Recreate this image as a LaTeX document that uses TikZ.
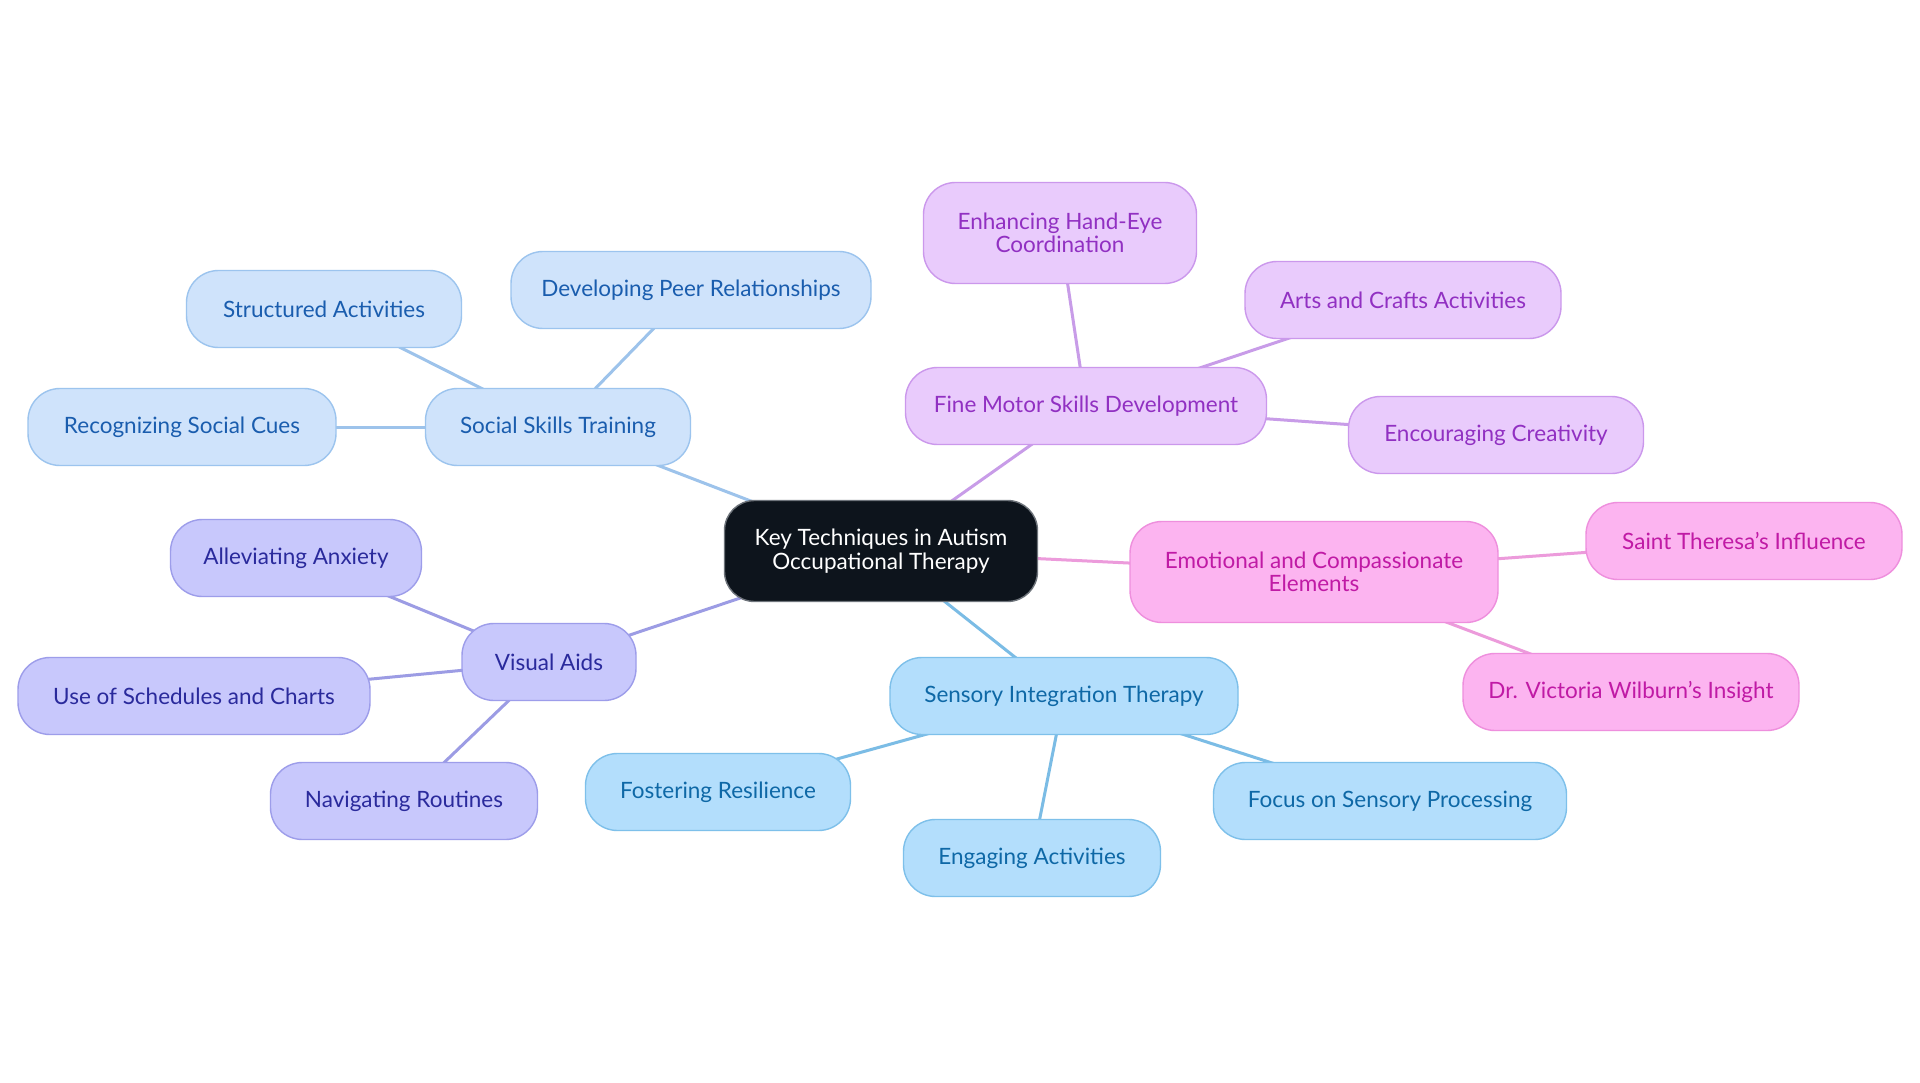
\documentclass[tikz,border=0pt]{standalone}
\usepackage{fontspec}
\setmainfont{Lato}
\usetikzlibrary{backgrounds}
\definecolor{rootFill}{HTML}{0D141C}
\definecolor{rootLine}{HTML}{6E747B}
\definecolor{ssFill}{HTML}{CFE3FB}
\definecolor{ssLine}{HTML}{9CC4EE}
\definecolor{ssText}{HTML}{1A5DAE}
\definecolor{ssEdge}{HTML}{9DC3EB}
\definecolor{vaFill}{HTML}{C8C8FC}
\definecolor{vaLine}{HTML}{9D9DEA}
\definecolor{vaText}{HTML}{2A2A9C}
\definecolor{vaEdge}{HTML}{9C9CE4}
\definecolor{siFill}{HTML}{B3DEFC}
\definecolor{siLine}{HTML}{7EC0EA}
\definecolor{siText}{HTML}{0E68A6}
\definecolor{siEdge}{HTML}{7BBCE5}
\definecolor{fmFill}{HTML}{E9CBFC}
\definecolor{fmLine}{HTML}{CB98EC}
\definecolor{fmText}{HTML}{9130C2}
\definecolor{fmEdge}{HTML}{C89CE8}
\definecolor{emFill}{HTML}{FCB4F0}
\definecolor{emLine}{HTML}{EE8FDD}
\definecolor{emText}{HTML}{C01AA5}
\definecolor{emEdge}{HTML}{EC9BDB}
\begin{document}
\begin{tikzpicture}[x=1pt,y=-1pt,
  box/.style={rounded corners=32pt, line width=1.4pt, align=center, inner sep=0pt,
    minimum height=77pt, font=\fontsize{22.5}{23.5}\selectfont},
  tall/.style={minimum height=101pt},
  rootbox/.style={box, tall, rounded corners=30pt, fill=rootFill, draw=rootLine, text=white},
  ssbox/.style={box, fill=ssFill, draw=ssLine, text=ssText},
  vabox/.style={box, fill=vaFill, draw=vaLine, text=vaText},
  sibox/.style={box, fill=siFill, draw=siLine, text=siText},
  fmbox/.style={box, fill=fmFill, draw=fmLine, text=fmText},
  embox/.style={box, fill=emFill, draw=emLine, text=emText},
  edge/.style={line width=3pt}
]
\useasboundingbox (0,0) rectangle (1920,1083);

\node[rootbox, minimum width=313pt] (root) at (881,551) {Key Techniques in Autism\\Occupational Therapy};

\node[ssbox, minimum width=265pt] (sst) at (558,427) {Social Skills Training};
\node[ssbox, minimum width=275pt] (sa) at (324,309) {Structured Activities};
\node[ssbox, minimum width=360pt] (dpr) at (691,290) {Developing Peer Relationships};
\node[ssbox, minimum width=308pt] (rsc) at (182,427) {Recognizing Social Cues};

\node[vabox, minimum width=174pt] (va) at (549,662) {Visual Aids};
\node[vabox, minimum width=251pt] (aa) at (296,558) {Alleviating Anxiety};
\node[vabox, minimum width=352pt] (usc) at (194,696) {Use of Schedules and Charts};
\node[vabox, minimum width=267pt] (nr) at (404,801) {Navigating Routines};

\node[sibox, minimum width=348pt] (sit) at (1064,696) {Sensory Integration Therapy};
\node[sibox, minimum width=265pt] (fr) at (718,792) {Fostering Resilience};
\node[sibox, minimum width=257pt] (ea) at (1032,858) {Engaging Activities};
\node[sibox, minimum width=353pt] (fsp) at (1390,801) {Focus on Sensory Processing};

\node[fmbox, minimum width=361pt] (fms) at (1086,406) {Fine Motor Skills Development};
\node[fmbox, tall, minimum width=273pt] (hec) at (1060,233) {Enhancing Hand-Eye\\Coordination};
\node[fmbox, minimum width=316pt] (aca) at (1403,300) {Arts and Crafts Activities};
\node[fmbox, minimum width=295pt] (ec) at (1496,435) {Encouraging Creativity};

\node[embox, tall, minimum width=368pt] (ece) at (1314,572) {Emotional and Compassionate\\Elements};
\node[embox, minimum width=316pt] (sti) at (1744,541) {Saint Theresa's Influence};
\node[embox, minimum width=336pt] (dvw) at (1631,692) {Dr. Victoria Wilburn's Insight};

\begin{scope}[on background layer]
\fill[white] (0,0) rectangle (1920,1083);
\draw[edge, ssEdge] (root.center) -- (sst.center);
\draw[edge, ssEdge] (sst.center) -- (sa.center);
\draw[edge, ssEdge] (sst.center) -- (dpr.center);
\draw[edge, ssEdge] (sst.center) -- (rsc.center);
\draw[edge, vaEdge] (root.center) -- (va.center);
\draw[edge, vaEdge] (va.center) -- (aa.center);
\draw[edge, vaEdge] (va.center) -- (usc.center);
\draw[edge, vaEdge] (va.center) -- (nr.center);
\draw[edge, siEdge] (root.center) -- (sit.center);
\draw[edge, siEdge] (sit.center) -- (fr.center);
\draw[edge, siEdge] (sit.center) -- (ea.center);
\draw[edge, siEdge] (sit.center) -- (fsp.center);
\draw[edge, fmEdge] (root.center) -- (fms.center);
\draw[edge, fmEdge] (fms.center) -- (hec.center);
\draw[edge, fmEdge] (fms.center) -- (aca.center);
\draw[edge, fmEdge] (fms.center) -- (ec.center);
\draw[edge, emEdge] (root.center) -- (ece.center);
\draw[edge, emEdge] (ece.center) -- (sti.center);
\draw[edge, emEdge] (ece.center) -- (dvw.center);
\end{scope}
\end{tikzpicture}
\end{document}
